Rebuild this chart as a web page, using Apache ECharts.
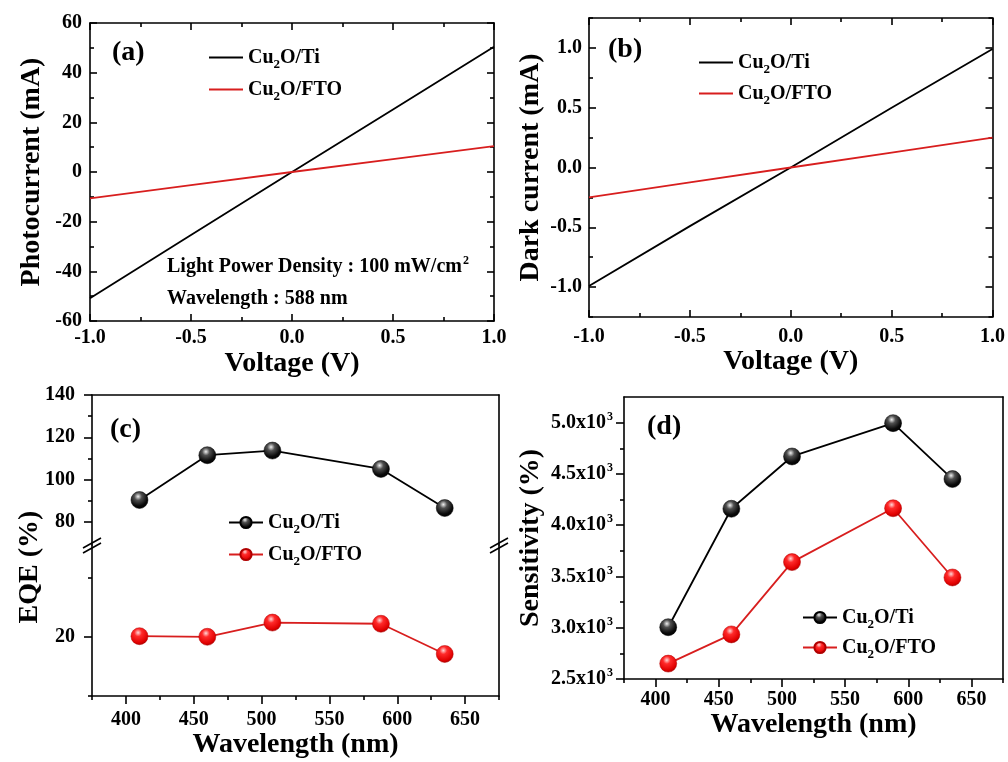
<!DOCTYPE html>
<html><head><meta charset="utf-8">
<script src="https://cdn.jsdelivr.net/npm/echarts@6/dist/echarts.min.js"></script>
<style>html,body{margin:0;padding:0;background:#fff}#c{width:1008px;height:762px}</style>
</head><body><div id="c"></div>
<script>
// ---------------- data ----------------
const voltage = [-1.0, -0.5, 0.0, 0.5, 1.0];
const photoTi = [-50.8, -25.4, 0, 25.2, 50.4];
const photoFTO = [-10.6, -5.3, 0, 5.2, 10.4];
const darkTi = [-0.99, -0.49, 0, 0.50, 0.99];
const darkFTO = [-0.25, -0.125, 0, 0.125, 0.25];
const wavelength = [410, 460, 508, 588, 635];
const eqeTi = [90.3, 111.5, 113.7, 105.0, 86.5];
const eqeFTO = [20.1, 20.0, 22.4, 22.2, 17.1];
const sensTi = [3005, 4160, 4670, 4995, 4450];
const sensFTO = [2650, 2935, 3640, 4165, 3490];

// tick values
const voltMajor = [-1.0, -0.5, 0, 0.5, 1.0];
const voltMinor = [-0.75, -0.25, 0.25, 0.75];
const photoMajor = [-60, -40, -20, 0, 20, 40, 60];
const photoMinor = [-50, -30, -10, 10, 30, 50];
const darkMajor = [-1.0, -0.5, 0, 0.5, 1.0];
const darkMinor = [-1.25, -0.75, -0.25, 0.25, 0.75, 1.25];
const wlMajor = [400, 450, 500, 550, 600, 650];
const wlMinor = [375, 425, 475, 525, 575, 625, 675];
const eqeUpperMajor = [80, 100, 120, 140];
const eqeUpperMinor = [90, 110, 130];
const eqeLowerMajor = [20];
const eqeLowerMinor = [10, 30];
const sensMajor = [2500, 3000, 3500, 4000, 4500, 5000];
const sensMinor = [2750, 3250, 3750, 4250, 4750];

// ---------------- styles ----------------
const FONT = 'Liberation Serif';
const RED = '#d81e1e';
const RICH = {
  b: {fontFamily: FONT, fontWeight: 'bold', fontSize: 20, lineHeight: 20, verticalAlign: 'middle', color: '#000'},
  sub: {fontFamily: FONT, fontWeight: 'bold', fontSize: 13, lineHeight: 8, verticalAlign: 'middle', padding: [14, 0, 0, 0], color: '#000'},
  sup: {fontFamily: FONT, fontWeight: 'bold', fontSize: 12, lineHeight: 8, verticalAlign: 'middle', padding: [0, 0, 12, 1], color: '#000'}
};
const LS = {color: '#000', width: 1.6};

const G = {
  a: {left: 90, top: 23, width: 404, height: 298},
  b: {left: 589, top: 18, width: 405, height: 299},
  cu: {left: 92, top: 395, width: 407, height: 150},
  cl: {left: 92, top: 545, width: 407, height: 151},
  d: {left: 624, top: 397, width: 379, height: 282},
  cn: {left: 92, top: 438, width: 407, height: 258}
};
const gridOrder = ['a', 'b', 'cu', 'cl', 'd', 'cn'];
const grids = gridOrder.map(k => Object.assign({containLabel: false}, G[k]));
const gi = k => gridOrder.indexOf(k);

const xAxes = [], yAxes = [];
function axis(list, o) {
  const idx = list.length;
  list.push({
    type: 'value', gridIndex: gi(o.grid), min: o.min, max: o.max, position: o.pos,
    splitLine: {show: false},
    axisLine: {show: o.line !== false, onZero: false, lineStyle: LS},
    axisTick: o.major ? {show: true, inside: !!o.inside, length: o.majorLen || 7, customValues: o.major, lineStyle: LS} : {show: false},
    axisLabel: o.fmt ? {show: true, customValues: o.major, formatter: o.fmt, margin: o.margin,
      fontFamily: FONT, fontWeight: 'bold', fontSize: 20, color: '#000', rich: RICH} : {show: false},
    name: o.name || '', nameLocation: 'middle', nameGap: o.nameGap || 0,
    nameTextStyle: {fontFamily: FONT, fontWeight: 'bold', fontSize: 28, color: '#000'},
    silent: true
  });
  if (o.minor) {
    list.push({
      type: 'value', gridIndex: gi(o.grid), min: o.min, max: o.max, position: o.pos,
      splitLine: {show: false}, axisLine: {show: false, onZero: false},
      axisTick: {show: true, inside: !!o.inside, length: 4, customValues: o.minor, lineStyle: LS},
      axisLabel: {show: false}, silent: true
    });
  }
  return idx;
}
const f1 = v => v.toFixed(1);
const fi = v => String(v);
const fsci = v => '{b|' + (v / 1000).toFixed(1) + 'x10}{sup|3}';

// panel a
const ax = axis(xAxes, {grid: 'a', min: -1, max: 1, pos: 'bottom', major: voltMajor, minor: voltMinor, inside: true, fmt: f1, margin: 7, name: 'Voltage (V)', nameGap: 29});
axis(xAxes, {grid: 'a', min: -1, max: 1, pos: 'top', major: voltMajor, minor: voltMinor, inside: true});
const ay = axis(yAxes, {grid: 'a', min: -60, max: 60, pos: 'left', major: photoMajor, minor: photoMinor, inside: true, fmt: fi, margin: 8, name: 'Photocurrent (mA)', nameGap: 44});
axis(yAxes, {grid: 'a', min: -60, max: 60, pos: 'right', major: photoMajor, minor: photoMinor, inside: true});
// panel b
const bx = axis(xAxes, {grid: 'b', min: -1, max: 1, pos: 'bottom', major: voltMajor, minor: voltMinor, inside: true, fmt: f1, margin: 10, name: 'Voltage (V)', nameGap: 28});
axis(xAxes, {grid: 'b', min: -1, max: 1, pos: 'top', major: voltMajor, minor: voltMinor, inside: true});
const by = axis(yAxes, {grid: 'b', min: -1.25, max: 1.25, pos: 'left', major: darkMajor, minor: darkMinor, inside: true, fmt: f1, margin: 7, name: 'Dark current (mA)', nameGap: 44});
axis(yAxes, {grid: 'b', min: -1.25, max: 1.25, pos: 'right', major: darkMajor, minor: darkMinor, inside: true});
// panel c upper
const cux = axis(xAxes, {grid: 'cu', min: 375, max: 675, pos: 'bottom', line: false});
axis(xAxes, {grid: 'cu', min: 375, max: 675, pos: 'top'});
const cuy = axis(yAxes, {grid: 'cu', min: 69, max: 140, pos: 'left', major: eqeUpperMajor, minor: eqeUpperMinor, majorLen: 8, fmt: fi, margin: 17});
axis(yAxes, {grid: 'cu', min: 69, max: 140, pos: 'right'});
// panel c lower
const clx = axis(xAxes, {grid: 'cl', min: 375, max: 675, pos: 'bottom', major: wlMajor, minor: wlMinor, majorLen: 8, fmt: fi, margin: 14, name: 'Wavelength (nm)', nameGap: 35});
const cly = axis(yAxes, {grid: 'cl', min: 10, max: 35.5, pos: 'left', major: eqeLowerMajor, minor: eqeLowerMinor, majorLen: 8, fmt: fi, margin: 17});
axis(yAxes, {grid: 'cl', min: 10, max: 35.5, pos: 'right'});
// panel d
const dx = axis(xAxes, {grid: 'd', min: 375, max: 675, pos: 'bottom', major: wlMajor, minor: wlMinor, majorLen: 8, fmt: fi, margin: 11, name: 'Wavelength (nm)', nameGap: 29});
axis(xAxes, {grid: 'd', min: 375, max: 675, pos: 'top'});
const dy = axis(yAxes, {grid: 'd', min: 2500, max: 5250, pos: 'left', major: sensMajor, minor: sensMinor, majorLen: 8, fmt: fsci, margin: 11, name: 'Sensitivity (%)', nameGap: 79});
axis(yAxes, {grid: 'd', min: 2500, max: 5250, pos: 'right'});
// helper grid for EQE name
axis(xAxes, {grid: 'cn', min: 0, max: 1, pos: 'bottom', line: false});
axis(yAxes, {grid: 'cn', min: 0, max: 1, pos: 'left', line: false, name: 'EQE (%)', nameGap: 48});

// ---------------- series ----------------
const pairs = (xs, ys) => xs.map((v, i) => [v, ys[i]]);
function plain(name, xs, ys, xi, yi, color) {
  return {type: 'line', name, xAxisIndex: xi, yAxisIndex: yi, data: pairs(xs, ys), symbol: 'none',
    lineStyle: {color, width: 1.8}, itemStyle: {color}, silent: true, z: 3};
}
const ballBlack = new echarts.graphic.RadialGradient(0.42, 0.3, 0.72, [
  {offset: 0, color: '#f0f0f0'}, {offset: 0.3, color: '#505050'}, {offset: 0.75, color: '#0a0a0a'}, {offset: 1, color: '#000'}]);
const ballRed = new echarts.graphic.RadialGradient(0.42, 0.3, 0.72, [
  {offset: 0, color: '#ffd6d6'}, {offset: 0.3, color: '#ff2a2a'}, {offset: 0.8, color: '#e00000'}, {offset: 1, color: '#a80000'}]);
function balls(name, xs, ys, xi, yi, color, grad) {
  return {type: 'line', name, xAxisIndex: xi, yAxisIndex: yi, data: pairs(xs, ys), symbol: 'circle', symbolSize: 17,
    showSymbol: true, lineStyle: {color, width: 1.8}, itemStyle: {color: grad, borderColor: color === '#000' ? '#000' : '#b00000', borderWidth: 0.5},
    silent: true, z: 3};
}
const series = [
  plain('aTi', voltage, photoTi, ax, ay, '#000'),
  plain('aFTO', voltage, photoFTO, ax, ay, RED),
  plain('bTi', voltage, darkTi, bx, by, '#000'),
  plain('bFTO', voltage, darkFTO, bx, by, RED),
  balls('cTi', wavelength, eqeTi, cux, cuy, '#000', ballBlack),
  balls('cFTO', wavelength, eqeFTO, clx, cly, RED, ballRed),
  balls('dTi', wavelength, sensTi, dx, dy, '#000', ballBlack),
  balls('dFTO', wavelength, sensFTO, dx, dy, RED, ballRed)
];

// ---------------- legends ----------------
const legText = n => n.endsWith('Ti') ? '{b|Cu}{sub|2}{b|O/Ti}' : '{b|Cu}{sub|2}{b|O/FTO}';
function legend(names, left, top, gap, lineOnly) {
  const l = {orient: 'vertical', left, top, itemWidth: 34, itemHeight: lineOnly ? 2 : 14, itemGap: gap, padding: 0,
    data: names, selectedMode: false, formatter: legText,
    textStyle: {rich: RICH, fontFamily: FONT, fontWeight: 'bold', fontSize: 20, color: '#000'}};
  if (lineOnly) l.icon = 'rect';
  return l;
}
const legends = [
  legend(['aTi', 'aFTO'], 209, 44, 5, true),
  legend(['bTi', 'bFTO'], 699, 49, 4, true),
  legend(['cTi', 'cFTO'], 228, 509, 5, false),
  legend(['dTi', 'dFTO'], 802, 604, 3, false)
];

// ---------------- texts ----------------
const tstyle = {fontFamily: FONT, fontWeight: 'bold', fontSize: 28, color: '#000'};
const titles = [
  {text: '(a)', left: 112, top: 39, padding: 0, textStyle: tstyle},
  {text: '(b)', left: 608, top: 36, padding: 0, textStyle: tstyle},
  {text: '(c)', left: 110, top: 416, padding: 0, textStyle: tstyle},
  {text: '(d)', left: 647, top: 413, padding: 0, textStyle: tstyle},
  {text: '{b|Light Power Density : 100 mW/cm}{sup|2}', left: 167, top: 257, padding: 0, textStyle: {rich: RICH, fontFamily: FONT, fontWeight: 'bold', fontSize: 20}},
  {text: '{b|Wavelength : 588 nm}', left: 167, top: 289, padding: 0, textStyle: {rich: RICH, fontFamily: FONT, fontWeight: 'bold', fontSize: 20}}
];

// axis-break marks for panel (c)
function breakMark(x, y) {
  return {type: 'group', z: 100, children: [
    {type: 'polygon', shape: {points: [[x - 9, y + 2], [x + 9, y - 8], [x + 9, y - 3], [x - 9, y + 7]]}, style: {fill: '#fff'}},
    {type: 'line', shape: {x1: x - 9, y1: y + 2, x2: x + 9, y2: y - 8}, style: {stroke: '#000', lineWidth: 1.6}},
    {type: 'line', shape: {x1: x - 9, y1: y + 7, x2: x + 9, y2: y - 3}, style: {stroke: '#000', lineWidth: 1.6}}
  ]};
}
const breakY = G.cu.top + G.cu.height + 1;
const graphic = [breakMark(G.cu.left, breakY), breakMark(G.cu.left + G.cu.width, breakY)];

const chart = echarts.init(document.getElementById('c'), null, {renderer: 'canvas'});
chart.setOption({
  animation: false,
  backgroundColor: '#fff',
  grid: grids,
  xAxis: xAxes,
  yAxis: yAxes,
  series,
  legend: legends,
  title: titles,
  graphic
});
</script></body></html>
